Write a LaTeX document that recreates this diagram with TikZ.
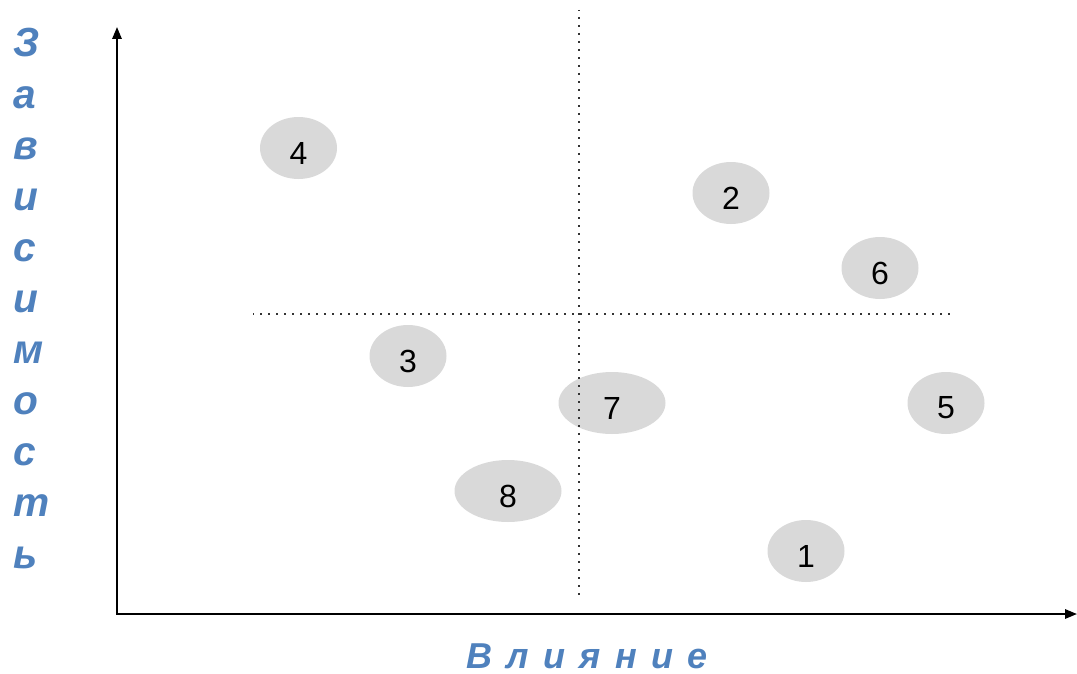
\documentclass[tikz,border=0pt]{standalone}
\usepackage{fontspec}
\setmainfont{Liberation Sans}
\usetikzlibrary{arrows.meta,shapes.geometric}
\definecolor{axisblue}{RGB}{79,129,189}
\definecolor{blobgray}{RGB}{217,217,217}
\tikzset{
  blob/.style={ellipse, fill=blobgray, draw=none, inner sep=0pt, minimum height=46.5pt},
  small/.style={blob, minimum width=57.75pt},
  wide/.style={blob, minimum width=80.25pt},
  numlab/.style={font=\fontsize{24pt}{28pt}\selectfont, inner sep=0pt, yshift=-3.75pt, text=black},
  vlet/.style={anchor=base west, inner sep=0pt, text=axisblue, font=\fontsize{30.5pt}{34pt}\selectfont\bfseries\itshape},
  hlab/.style={anchor=base west, inner sep=0pt, text=axisblue, font=\fontsize{27pt}{32pt}\selectfont\bfseries\itshape\addfontfeatures{LetterSpace=40}},
  axisline/.style={line width=1.5pt, -{Triangle[width=7pt,length=9pt]}},
  quadline/.style={line width=1.5pt, dash pattern=on 1.5pt off 4.5pt, dash phase=0.75pt}
}
\begin{document}
\begin{tikzpicture}[x=0.75pt,y=-0.75pt]
\useasboundingbox (0,0) rectangle (1077,674);
% bubbles
\node[small, label={[numlab]center:4}] (n4) at (298.5,148) {};
\node[small, label={[numlab]center:2}] (n2) at (731,193) {};
\node[small, label={[numlab]center:6}] (n6) at (880,268) {};
\node[small, label={[numlab]center:3}] (n3) at (408,356) {};
\node[wide,  label={[numlab]center:7}] (n7) at (612,403) {};
\node[small, label={[numlab]center:5}] (n5) at (946,403) {};
\node[wide,  label={[numlab]center:8}] (n8) at (508,491) {};
\node[small, label={[numlab]center:1}] (n1) at (806,551) {};
% quadrant lines
\coordinate (vtop) at (579,10);
\coordinate (vbot) at (579,597);
\coordinate (hleft) at (253,314);
\coordinate (hright) at (952,314);
\draw[quadline, black!80] (vtop) -- (vbot);
\draw[quadline, black!80] (hleft) -- (hright);
% axes
\coordinate (origin) at (117,614);
\coordinate (ytip) at (117,27);
\coordinate (xtip) at (1077,614);
\draw[axisline, line cap=rect] (origin) -- (ytip);
\draw[axisline] (origin) -- (xtip);
% vertical label
\node[vlet] (l1) at (13,57) {З};
\node[vlet] (l2) at (13,108.1) {а};
\node[vlet] (l3) at (13,159.2) {в};
\node[vlet] (l4) at (13,210.3) {и};
\node[vlet] (l5) at (13,261.4) {с};
\node[vlet] (l6) at (13,312.5) {и};
\node[vlet] (l7) at (13,363.6) {м};
\node[vlet] (l8) at (13,414.7) {о};
\node[vlet] (l9) at (13,465.8) {с};
\node[vlet] (l10) at (13,516.9) {т};
\node[vlet] (l11) at (13,568) {ь};
% horizontal label
\node[hlab] (xlab) at (466,668) {Влияние};
\end{tikzpicture}
\end{document}
